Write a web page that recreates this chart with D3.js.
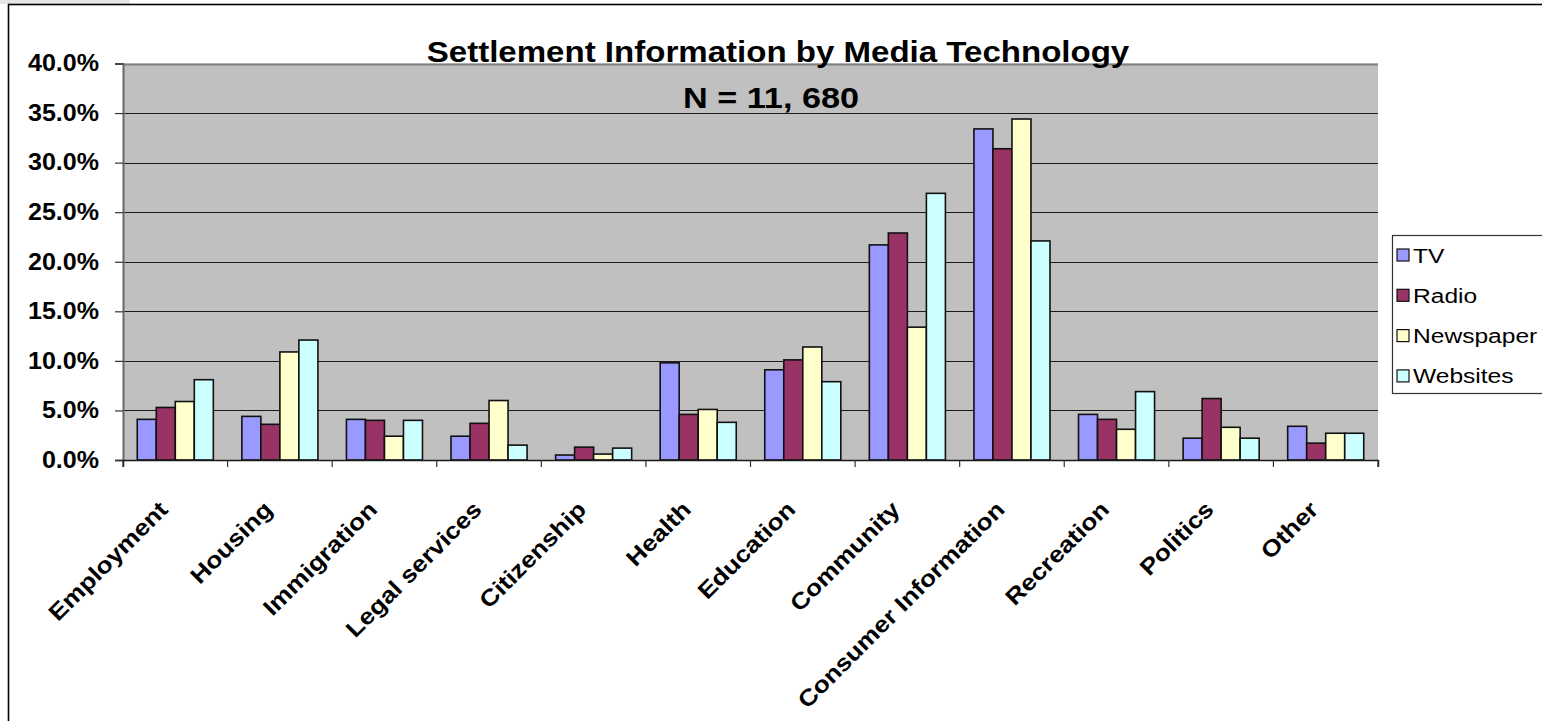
<!DOCTYPE html>
<html>
<head>
<meta charset="utf-8">
<script src="https://cdn.jsdelivr.net/npm/d3@7/dist/d3.min.js"></script>
<style>
  html, body { margin: 0; padding: 0; background: #ffffff; overflow: hidden; }
  svg { display: block; font-family: "Liberation Sans", Arial, sans-serif; }
</style>
</head>
<body>
<svg id="chart" width="1542" height="721"></svg>
<script>
// Topics of settlement information
const categories = ["Employment", "Housing", "Immigration", "Legal services", "Citizenship",
  "Health", "Education", "Community", "Consumer Information", "Recreation", "Politics", "Other"];

// Media technologies
const seriesNames = ["TV", "Radio", "Newspaper", "Websites"];

// Share of responses per topic (fractions)
const tvValues        = [0.041, 0.044, 0.041, 0.024, 0.005, 0.098, 0.091, 0.217, 0.334, 0.046, 0.022, 0.034];
const radioValues     = [0.053, 0.036, 0.040, 0.037, 0.013, 0.046, 0.101, 0.229, 0.314, 0.041, 0.062, 0.017];
const newspaperValues = [0.059, 0.109, 0.024, 0.060, 0.006, 0.051, 0.114, 0.134, 0.344, 0.031, 0.033, 0.027];
const websiteValues   = [0.081, 0.121, 0.040, 0.015, 0.012, 0.038, 0.079, 0.269, 0.221, 0.069, 0.022, 0.027];

const yTicks = [0, 0.05, 0.10, 0.15, 0.20, 0.25, 0.30, 0.35, 0.40];

const seriesColors = ["#9999ff", "#993366", "#ffffcc", "#ccffff"];

const valuesBySeries = [tvValues, radioValues, newspaperValues, websiteValues];

const titleText = "Settlement Information by Media Technology";
const subtitleText = "N = 11, 680";

const svg = d3.select("#chart");

// chart frame
svg.append("rect").attr("x", 0).attr("y", 0).attr("width", 130).attr("height", 4)
  .attr("fill", "#e6e6e6");
svg.append("rect").attr("x", 8.5).attr("y", 4.5).attr("width", 1600).attr("height", 800)
  .attr("fill", "#ffffff").attr("stroke", "#000000").attr("stroke-width", 1.6);

const plot = { left: 123, right: 1378, top: 63.5, bottom: 460 };

const x = d3.scaleBand().domain(categories).range([plot.left, plot.right]).paddingInner(0).paddingOuter(0);
const bw = x.bandwidth();
// gap between groups equals 1.5 bar widths
const xs = d3.scaleBand().domain(seriesNames)
  .range([bw * 0.75 / 5.5, bw * 4.75 / 5.5]).padding(0);
const y = d3.scaleLinear().domain([0, 0.40]).range([plot.bottom, plot.top]);

// plot background
svg.append("rect")
  .attr("x", plot.left).attr("y", plot.top)
  .attr("width", plot.right - plot.left).attr("height", plot.bottom - plot.top)
  .attr("fill", "#c0c0c0");

// horizontal gridlines
svg.append("g")
  .selectAll("line")
  .data(yTicks.filter(d => d > 0))
  .join("line")
  .attr("x1", plot.left).attr("x2", plot.right)
  .attr("y1", d => Math.round(y(d)) + 0.5).attr("y2", d => Math.round(y(d)) + 0.5)
  .attr("stroke", d => d === 0.40 ? "#808080" : "#1a1a1a")
  .attr("stroke-width", d => d === 0.40 ? 2 : 1.2);

// y axis
const yAxis = d3.axisLeft(y).tickValues(yTicks).tickFormat(d3.format(".1%")).tickSize(8).tickPadding(0);
const gy = svg.append("g").attr("transform", `translate(${plot.left},0)`).call(yAxis);
gy.select(".domain").attr("stroke", "#666666").attr("stroke-width", 2);
gy.selectAll(".tick line").attr("stroke", "#333333").attr("stroke-width", 1.2);
gy.selectAll(".tick text")
  .attr("x", null)
  .attr("transform", `translate(-24,0) scale(1.09,1)`)
  .attr("font-family", "'Liberation Sans', Arial, sans-serif")
  .attr("font-size", 23).attr("font-weight", "bold").attr("fill", "#000000");

// bars
const groups = svg.append("g")
  .selectAll("g")
  .data(categories)
  .join("g")
  .attr("transform", d => `translate(${x(d)},0)`);

groups.selectAll("rect")
  .data((c, i) => seriesNames.map((s, k) => ({ s, k, v: valuesBySeries[k][i] })))
  .join("rect")
  .attr("x", d => xs(d.s))
  .attr("y", d => y(d.v))
  .attr("width", xs.bandwidth())
  .attr("height", d => y(0) - y(d.v))
  .attr("fill", d => seriesColors[d.k])
  .attr("stroke", "#111111")
  .attr("stroke-width", 1.6);

// x axis
const xAxis = d3.axisBottom(x).tickSize(7).tickFormat("");
const gx = svg.append("g").attr("transform", `translate(0,${plot.bottom})`).call(xAxis);
gx.select(".domain").attr("stroke", "#1a1a1a").attr("stroke-width", 1.5);
// category boundary ticks
gx.selectAll(".tick").remove();
gx.selectAll("line.sep")
  .data(categories.concat(["_end"]))
  .join("line")
  .attr("class", "sep")
  .attr("x1", (d, i) => plot.left + i * bw).attr("x2", (d, i) => plot.left + i * bw)
  .attr("y1", 0).attr("y2", 7)
  .attr("stroke", "#333333").attr("stroke-width", 1.2);

// rotated category labels
svg.append("g")
  .selectAll("text")
  .data(categories)
  .join("text")
  .attr("transform", d => `translate(${x(d) + bw / 2 - 6},${plot.bottom + 51}) rotate(-45) scale(1.14,1)`)
  .attr("text-anchor", "end")
  .attr("font-size", 23).attr("font-weight", "bold").attr("fill", "#000000")
  .text(d => d);

// titles
svg.append("text")
  .attr("transform", `translate(778,62) scale(1.14,1)`)
  .attr("text-anchor", "middle")
  .attr("font-size", 29).attr("font-weight", "bold")
  .text(titleText);
svg.append("text")
  .attr("transform", `translate(771,108) scale(1.18,1)`)
  .attr("text-anchor", "middle")
  .attr("font-size", 29).attr("font-weight", "bold")
  .text(subtitleText);

// legend
const legend = svg.append("g");
legend.append("rect")
  .attr("x", 1392.5).attr("y", 235.5).attr("width", 160).attr("height", 158)
  .attr("fill", "#ffffff").attr("stroke", "#333333").attr("stroke-width", 1.2);
const rows = legend.selectAll("g.row")
  .data(seriesNames)
  .join("g")
  .attr("class", "row")
  .attr("transform", (d, i) => `translate(1397,${255 + i * 40.3})`);
rows.append("rect")
  .attr("x", 0).attr("y", -6).attr("width", 12).attr("height", 12)
  .attr("fill", (d, i) => seriesColors[i])
  .attr("stroke", "#111111").attr("stroke-width", 1.2);
rows.append("text")
  .attr("transform", `translate(16,7.5) scale(1.17,1)`)
  .attr("font-size", 21).attr("fill", "#000000")
  .text(d => d);
</script>
</body>
</html>
